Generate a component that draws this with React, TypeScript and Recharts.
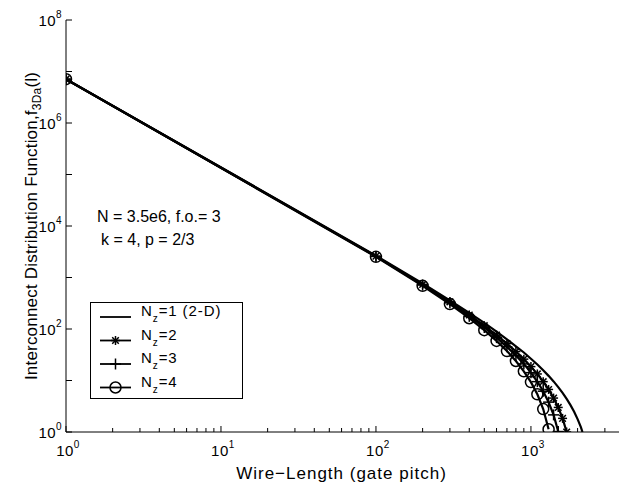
import React from 'react';
import { LineChart, Line, XAxis, YAxis, Legend } from 'recharts';

// wire lengths (gate pitch) and distribution values
const lengthsNz1 = [1, 100, 200, 300, 400, 500, 600, 700, 800, 900, 1000, 1100, 1200, 1300, 1400, 1500, 1600, 1700, 1800, 1900, 2000, 2100, 2150];
const countsNz1 = [7.1e6, 2650, 766, 360, 206, 131, 89, 63, 46, 35, 26.5, 20.4, 15.8, 12.3, 9.6, 7.45, 5.75, 4.4, 3.33, 2.48, 1.78, 1.24, 1.0];

const lengthsNz2 = [1, 100, 200, 300, 400, 500, 600, 700, 800, 900, 1000, 1100, 1200, 1300, 1400, 1500, 1600, 1700];
const countsNz2 = [7.1e6, 2600, 734, 337, 187, 116, 76, 52, 36.5, 26, 18.6, 13.4, 9.5, 6.7, 4.56, 3.0, 1.84, 1.0];

const lengthsNz3 = [1, 100, 200, 300, 400, 500, 600, 700, 800, 900, 1000, 1100, 1200, 1300, 1400, 1500];
const countsNz3 = [7.1e6, 2565, 714, 322, 176, 107, 68, 45, 30.7, 21, 14.2, 9.5, 6.2, 3.8, 2.15, 1.02];

const lengthsNz4 = [1, 100, 200, 300, 400, 500, 600, 700, 800, 900, 1000, 1100, 1200, 1300];
const countsNz4 = [7.1e6, 2520, 690, 305, 162, 95, 58.8, 37.3, 23.9, 15.1, 9.3, 5.4, 2.79, 1.13];

const xTicks = [1, 2, 3, 4, 5, 6, 7, 8, 9, 10, 20, 30, 40, 50, 60, 70, 80, 90, 100, 200, 300, 400, 500, 600, 700, 800, 900, 1000, 2000, 3000];
const yTicks = [1, 10, 100, 1e3, 1e4, 1e5, 1e6, 1e7, 1e8];
const xDomain = [1, 3700];
const yDomain = [1, 1e8];

const FONT = '"Liberation Sans", Arial, Helvetica, sans-serif';
const INK = '#000';

const toPoints = (xs: number[], ys: number[]) => xs.map((l, i) => ({ l, f: ys[i] }));

const isDecade = (v: number) => {
  const e = Math.log10(v);
  return Math.abs(e - Math.round(e)) < 1e-9;
};

const BottomTick = ({ x, y, payload }: any) => {
  const v = payload.value;
  const major = isDecade(v);
  return (
    <g>
      <line x1={x} y1={y} x2={x} y2={y - (major ? 6 : 4)} stroke={INK} />
      {major && (
        <text x={x + 2} y={y + 24} textAnchor="middle" fontSize={15} letterSpacing={0.5} fontFamily={FONT} fill={INK}>
          <tspan>10</tspan>
          <tspan dy={-8} fontSize={10}>{Math.round(Math.log10(v))}</tspan>
        </text>
      )}
    </g>
  );
};

const TopTick = ({ x, y, payload }: any) => (
  <line x1={x} y1={y} x2={x} y2={y + (isDecade(payload.value) ? 6 : 4)} stroke={INK} />
);

const LeftTick = ({ x, y, payload }: any) => {
  const exp = Math.round(Math.log10(payload.value));
  return (
    <g>
      <line x1={x} y1={y} x2={x + 6} y2={y} stroke={INK} />
      {exp % 2 === 0 && (
        <text x={x - 4} y={y + 6} textAnchor="end" fontSize={15} letterSpacing={0.4} fontFamily={FONT} fill={INK}>
          <tspan>10</tspan>
          <tspan dy={-8} fontSize={10}>{exp}</tspan>
        </text>
      )}
    </g>
  );
};

const RightTick = ({ x, y }: any) => <line x1={x} y1={y} x2={x - 6} y2={y} stroke={INK} />;

const StarMark = ({ cx, cy }: { cx: number; cy: number }) => (
  <g stroke={INK} strokeWidth={1.5}>
    <line x1={cx - 4.5} y1={cy} x2={cx + 4.5} y2={cy} />
    <line x1={cx} y1={cy - 4.5} x2={cx} y2={cy + 4.5} />
    <line x1={cx - 3.3} y1={cy - 3.3} x2={cx + 3.3} y2={cy + 3.3} />
    <line x1={cx - 3.3} y1={cy + 3.3} x2={cx + 3.3} y2={cy - 3.3} />
  </g>
);

const PlusMark = ({ cx, cy }: { cx: number; cy: number }) => (
  <g stroke={INK} strokeWidth={1.5}>
    <line x1={cx - 5.5} y1={cy} x2={cx + 5.5} y2={cy} />
    <line x1={cx} y1={cy - 5.5} x2={cx} y2={cy + 5.5} />
  </g>
);

const CircleMark = ({ cx, cy }: { cx: number; cy: number }) => (
  <circle cx={cx} cy={cy} r={5.5} fill="none" stroke={INK} strokeWidth={1.5} />
);

const dotWith = (Mark: any) => (p: any) => <Mark key={`m-${p.index}`} cx={p.cx} cy={p.cy} />;

const legendRows = [
  { label: '=1 (2-D)', mark: null },
  { label: '=2', mark: StarMark },
  { label: '=3', mark: PlusMark },
  { label: '=4', mark: CircleMark },
];

const renderLegend = () => (
  <svg width={154} height={98} style={{ display: 'block' }}>
    <rect x={0.5} y={0.5} width={152} height={96} fill="#fff" stroke={INK} />
    {legendRows.map((r, i) => {
      const cy = 15 + i * 23.5;
      const Mark = r.mark;
      return (
        <g key={r.label}>
          <line x1={10} y1={cy} x2={41} y2={cy} stroke={INK} strokeWidth={1.8} />
          {Mark && <Mark cx={25.5} cy={cy} />}
          <text x={51} y={cy - 1} fontSize={15} letterSpacing={0.9} fontFamily={FONT} fill={INK}>
            <tspan>N</tspan>
            <tspan dy={6} fontSize={10}>z</tspan>
            <tspan dy={-6}>{r.label}</tspan>
          </text>
        </g>
      );
    })}
  </svg>
);

const XTitle = ({ viewBox }: any) => (
  <text x={viewBox.x + viewBox.width / 2 - 1} y={viewBox.y + 47} textAnchor="middle" fontSize={17} letterSpacing={1} fontFamily={FONT} fill={INK}>
    Wire−Length (gate pitch)
  </text>
);

const YTitle = ({ viewBox }: any) => {
  const cx = viewBox.x + 29;
  const cy = viewBox.y + viewBox.height / 2;
  return (
    <text x={cx} y={cy} transform={`rotate(-90 ${cx} ${cy})`} textAnchor="middle" fontSize={17} letterSpacing={0.2} fontFamily={FONT} fill={INK}>
      <tspan>Interconnect Distribution Function,f</tspan>
      <tspan dy={4} fontSize={12}>3Da</tspan>
      <tspan dy={-4}>(l)</tspan>
    </text>
  );
};

export default function App() {
  return (
    <div style={{ position: 'absolute', left: 0, top: 0, width: 624, height: 487, background: '#fff' }}>
      <LineChart width={624} height={487} margin={{ top: 20, right: 5, bottom: 25, left: 8 }}>
        <XAxis
          dataKey="l"
          type="number"
          scale="log"
          domain={xDomain}
          allowDataOverflow
          ticks={xTicks}
          interval={0}
          height={30}
          tickSize={0}
          tickMargin={0}
          tickLine={false}
          tick={<BottomTick />}
          axisLine={{ stroke: INK }}
          label={{ content: <XTitle /> }}
        />
        <XAxis
          xAxisId="top"
          orientation="top"
          dataKey="l"
          type="number"
          scale="log"
          domain={xDomain}
          allowDataOverflow
          ticks={xTicks}
          interval={0}
          height={0}
          tickSize={0}
          tickMargin={0}
          tickLine={false}
          tick={<TopTick />}
          axisLine={{ stroke: INK }}
        />
        <YAxis
          dataKey="f"
          type="number"
          scale="log"
          domain={yDomain}
          allowDataOverflow
          ticks={yTicks}
          interval={0}
          width={58}
          tickSize={0}
          tickMargin={0}
          tickLine={false}
          tick={<LeftTick />}
          axisLine={{ stroke: INK }}
          label={{ content: <YTitle /> }}
        />
        <YAxis
          yAxisId="right"
          orientation="right"
          dataKey="f"
          type="number"
          scale="log"
          domain={yDomain}
          allowDataOverflow
          ticks={yTicks}
          interval={0}
          width={0}
          tickSize={0}
          tickMargin={0}
          tickLine={false}
          tick={<RightTick />}
          axisLine={{ stroke: INK }}
        />
        <Legend
          layout="horizontal"
          verticalAlign="middle"
          align="center"
          content={renderLegend}
          wrapperStyle={{ left: 90, top: 302, width: 154, height: 98 }}
        />
        <Line data={toPoints(lengthsNz1, countsNz1)} dataKey="f" name="Nz=1 (2-D)" stroke={INK} strokeWidth={2.2} dot={false} isAnimationActive={false} />
        <Line data={toPoints(lengthsNz2, countsNz2)} dataKey="f" name="Nz=2" stroke={INK} strokeWidth={2.2} dot={dotWith(StarMark)} isAnimationActive={false} />
        <Line data={toPoints(lengthsNz3, countsNz3)} dataKey="f" name="Nz=3" stroke={INK} strokeWidth={2.2} dot={dotWith(PlusMark)} isAnimationActive={false} />
        <Line data={toPoints(lengthsNz4, countsNz4)} dataKey="f" name="Nz=4" stroke={INK} strokeWidth={2.2} dot={dotWith(CircleMark)} isAnimationActive={false} />
      </LineChart>
      <div style={{ position: 'absolute', left: 97, top: 208, fontFamily: FONT, fontSize: 16, color: INK, whiteSpace: 'nowrap' }}>
        N = 3.5e6, f.o.= 3
      </div>
      <div style={{ position: 'absolute', left: 101, top: 231, fontFamily: FONT, fontSize: 16, color: INK, whiteSpace: 'nowrap' }}>
        k = 4, p = 2/3
      </div>
    </div>
  );
}
